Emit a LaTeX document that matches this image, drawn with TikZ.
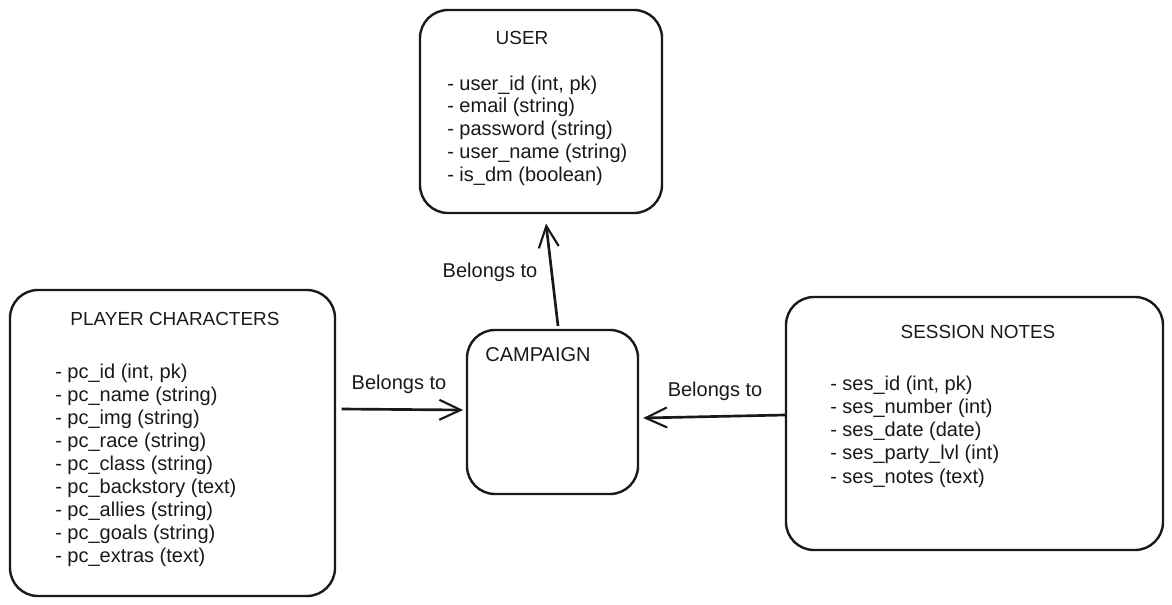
\documentclass[tikz,border=0pt]{standalone}
\usepackage{fontspec}
\setmainfont{Liberation Sans}
\usetikzlibrary{fit,arrows.meta}
\begin{document}
\begin{tikzpicture}[x=0.75pt,y=-0.75pt,
  box/.style={draw=black!90,line width=1.8pt,rounded corners=21pt,inner sep=0pt},
  body/.style={font=\fontsize{15}{17}\selectfont,inner sep=0pt,text=black!90},
  ttl/.style={font=\fontsize{14.2}{16}\selectfont,inner sep=0pt,text=black!90},
  arr/.style={draw=black!90,line width=2pt,-{Straight Barb[length=16pt,width=15pt,line width=1.6pt]}}]
\useasboundingbox (0,0) rectangle (1172,604);
% boxes
\node[box,fit={(420,10) (662,213)}] (user) {};
\node[box,fit={(10,290) (335,596)}] (pc) {};
\node[box,fit={(467,330) (638,494)}] (camp) {};
\node[box,fit={(786,297) (1163,550)}] (ses) {};
% titles
\node[ttl] (usert) at (522,38) {USER};
\node[ttl] (pct) at (175,319) {PLAYER CHARACTERS};
\node[ttl] (sest) at (978,332) {SESSION NOTES};
\node[body] (campt) at (538,355) {CAMPAIGN};
% attributes
\foreach \t [count=\i] in {{- user\_id (int, pk)},{- email (string)},{- password (string)},{- user\_name (string)},{- is\_dm (boolean)}}
  \node[body,anchor=base west] (ua\i) at (447,{84+6+(\i-1)*22.8}) {\t};
\foreach \t [count=\i] in {{- pc\_id (int, pk)},{- pc\_name (string)},{- pc\_img (string)},{- pc\_race (string)},{- pc\_class (string)},{- pc\_backstory (text)},{- pc\_allies (string)},{- pc\_goals (string)},{- pc\_extras (text)}}
  \node[body,anchor=base west] (pa\i) at (55,{372+6+(\i-1)*23.1}) {\t};
\foreach \t [count=\i] in {{- ses\_id (int, pk)},{- ses\_number (int)},{- ses\_date (date)},{- ses\_party\_lvl (int)},{- ses\_notes (text)}}
  \node[body,anchor=base west] (sa\i) at (830,{384+6+(\i-1)*23.25}) {\t};
% connectors
\draw[arr] ([xshift=4pt]pc.east |- 0,409) -- ([xshift=-2pt]camp.west |- 0,410);
\draw[arr] (ses.west |- 0,415) -- ([xshift=3pt]camp.east |- 0,418);
\draw[arr] (558,326) -- ([yshift=-7pt]user.south -| 546,0);
% labels
\node[body] (l1) at (399,384) {Belongs to};
\node[body] (l2) at (715,391) {Belongs to};
\node[body] (l3) at (490,272) {Belongs to};
\end{tikzpicture}
\end{document}
